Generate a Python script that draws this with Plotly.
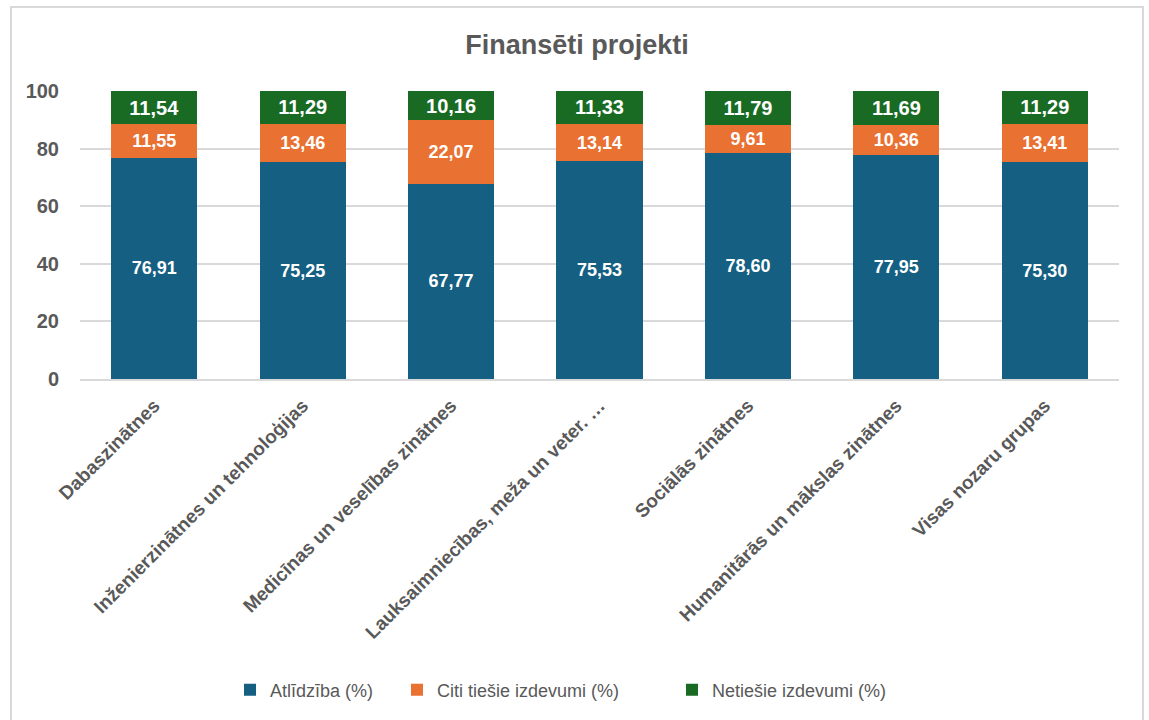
import plotly.graph_objects as go

categories = [
    "Dabaszinātnes",
    "Inženierzinātnes un tehnoloģijas",
    "Medicīnas un veselības zinātnes",
    "Lauksaimniecības, meža un veter. …",
    "Sociālās zinātnes",
    "Humanitārās un mākslas zinātnes",
    "Visas nozaru grupas",
]
atlidziba = [76.91, 75.25, 67.77, 75.53, 78.60, 77.95, 75.30]
citi_tiesie = [11.55, 13.46, 22.07, 13.14, 9.61, 10.36, 13.41]
netiesie = [11.54, 11.29, 10.16, 11.33, 11.79, 11.69, 11.29]

series_names = ["Atlīdzība (%)", "Citi tiešie izdevumi (%)", "Netiešie izdevumi (%)"]
colors = ["#156082", "#E97132", "#196B24"]
label_sizes = [18, 18, 20]
legend_ids = ["legend", "legend2", "legend3"]
legend_left_px = [230, 397, 672]

GRAY = "#595959"
W, H = 1149, 720
PL, PR, PT, PB = 80, 1119, 91, 379  # plot area in page pixels


def px2x(px):
    return (px - PL) / (PR - PL)


def py2y(py):
    return (PB - py) / (PB - PT)


fig = go.Figure()
for name, vals, col, ts, lg in zip(series_names, [atlidziba, citi_tiesie, netiesie], colors,
                                   label_sizes, legend_ids):
    fig.add_trace(go.Bar(
        x=categories, y=vals, name=name, legend=lg,
        marker=dict(color=col, line=dict(width=0)),
        texttemplate="%{y:.2f}", textposition="inside", insidetextanchor="middle",
        textangle=0,
        textfont=dict(color="white", size=ts, family="Liberation Sans", weight="bold"),
    ))

legend_common = dict(orientation="h", xanchor="left", y=py2y(690), yanchor="middle",
                     font=dict(size=18, color=GRAY, family="Liberation Sans"),
                     bgcolor="rgba(0,0,0,0)")

fig.update_layout(
    barmode="stack",
    bargap=0.42,
    separators=", ",
    width=W, height=H,
    margin=dict(l=PL, r=W - PR, t=PT, b=H - PB),
    paper_bgcolor="white", plot_bgcolor="white",
    title=dict(text="<b>Finansēti projekti</b>", x=577 / W, xref="container", xanchor="center",
               y=1 - 45 / H, yref="container", yanchor="middle",
               font=dict(size=27, color=GRAY, family="Liberation Sans")),
    legend=dict(x=px2x(legend_left_px[0]), **legend_common),
    legend2=dict(x=px2x(legend_left_px[1]), **legend_common),
    legend3=dict(x=px2x(legend_left_px[2]), **legend_common),
    showlegend=True,
)
fig.update_yaxes(range=[0, 100], dtick=20, showgrid=True, gridcolor="#d9d9d9", gridwidth=2,
                 zeroline=False, showline=False, automargin=False,
                 tickfont=dict(size=20, color=GRAY, family="Liberation Sans", weight="bold"),
                 ticks="", ticklabelstandoff=20)
fig.update_xaxes(tickangle=-45, showline=True, linecolor="#d9d9d9", linewidth=2, automargin=False,
                 tickfont=dict(size=19, color=GRAY, family="Liberation Sans", weight="bold"),
                 ticks="", ticklabelstandoff=6)

# outer chart border (open at bottom, as in the screenshot)
fig.add_shape(type="path", xref="paper", yref="paper",
              path="M %f %f L %f %f L %f %f L %f %f" % (
                  px2x(11), py2y(740), px2x(11), py2y(7),
                  px2x(1143), py2y(7), px2x(1143), py2y(740)),
              line=dict(color="#d9d9d9", width=2))

fig.write_html(
    "out.html",
    config={"displayModeBar": False},
    post_script="document.body.style.margin='0';document.body.style.overflow='hidden';"
                "document.documentElement.style.overflow='hidden';",
)
